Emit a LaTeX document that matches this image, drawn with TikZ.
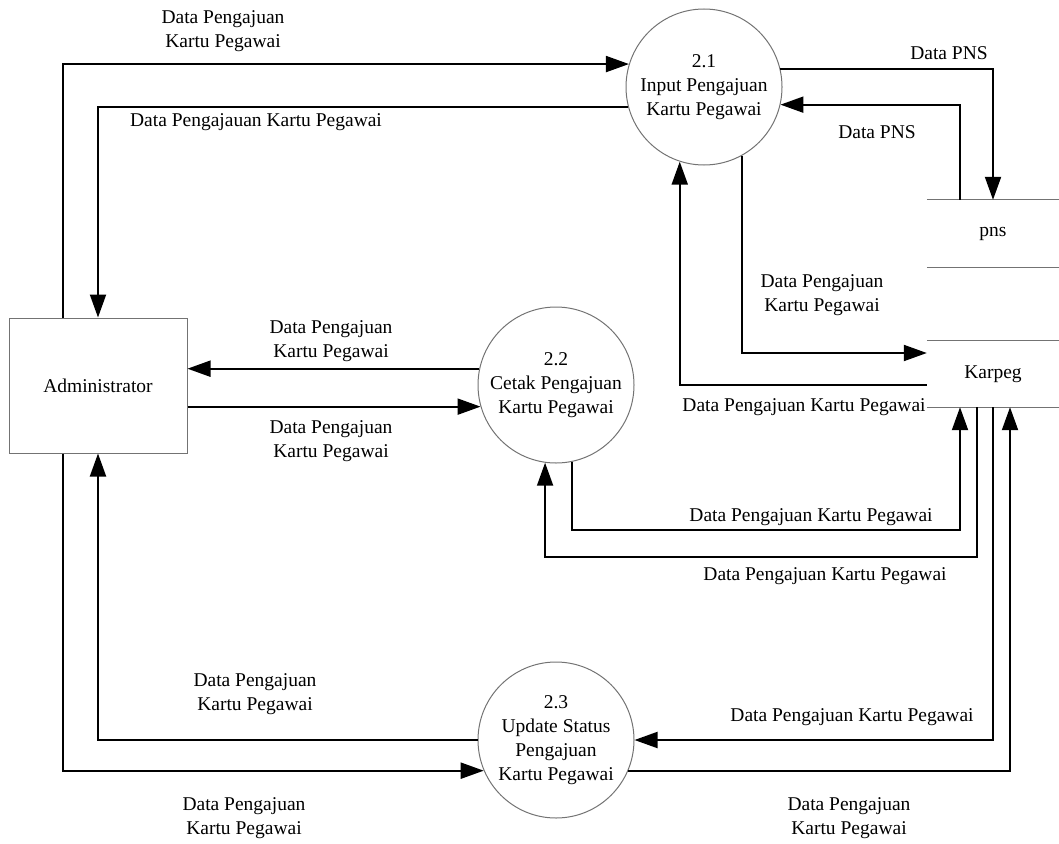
\documentclass[tikz,border=0pt]{standalone}
\usepackage{fontspec}
\setmainfont{Liberation Serif}
\usetikzlibrary{arrows.meta}
\begin{document}
\begin{tikzpicture}[x=1pt,y=-1pt,font=\fontsize{19.5}{24}\selectfont,
	proc/.style={circle,draw=black!55,line width=1pt,minimum size=156pt,inner sep=0pt,align=center},
	store/.style={minimum width=132pt,inner sep=0pt},
	flow/.style={line width=2pt,-{Triangle[length=23pt,width=16pt]}},
	lbl/.style={align=center,inner sep=1pt}]
	\useasboundingbox (0,0) rectangle (1059,843);

	\node[draw=black!55,line width=1pt,minimum width=178pt,minimum height=135pt] (admin) at (98,385.5) {Administrator};
	\node[proc] (p21) at (704,87)  {2.1\\Input Pengajuan\\Kartu Pegawai};
	\node[proc] (p22) at (556,385) {2.2\\Cetak Pengajuan\\Kartu Pegawai};
	\node[proc] (p23) at (556,740) {2.3\\Update Status\\Pengajuan\\Kartu Pegawai};
	\node[store,minimum height=67pt] (pns) at (993,233.5) {pns};
	\node[store,minimum height=66pt] (karpeg) at (993,374) {Karpeg};

	\draw[black!55,line width=1pt] (pns.north west) -- (pns.north east) (pns.south west) -- (pns.south east);
	\draw[black!55,line width=1pt] (karpeg.north west) -- (karpeg.north east) (karpeg.south west) -- (karpeg.south east);

	\coordinate (kpA) at ([xshift=-33pt]karpeg.south);
	\coordinate (kpB) at ([xshift=-16pt]karpeg.south);
	\coordinate (kpD) at ([xshift=17pt]karpeg.south);
	\coordinate (laneA) at (0,530);
	\coordinate (laneB) at (0,557);

	\draw[flow] ([xshift=-35pt]admin.north) |- (p21.163);
	\draw[flow] (p21.195) -| (admin.north);
	\draw[flow] (p21.13) -| (pns.north);
	\draw[flow] ([xshift=-33pt]pns.north) |- (p21.347);
	\draw[flow] (p21.299) |- ([yshift=21pt]karpeg.west);
	\draw[flow] ([yshift=-11pt]karpeg.west) -| (p21.252);
	\draw[flow] (p22.168) -- (p22.168 -| admin.east);
	\draw[flow] (admin.east |- p22.196) -- (p22.196);
	\draw[flow] (p22.282) |- (kpA |- laneA) -- (kpA);
	\draw[flow] (kpB) |- (p22.262 |- laneB) -- (p22.262);
	\draw[flow] (karpeg.south) |- (p23.0);
	\draw[flow] (p23.337) -| (kpD);
	\draw[flow] (p23.180) -| (admin.south);
	\draw[flow] ([xshift=-35pt]admin.south) |- (p23.203);

	\node[lbl] (f1) at (223,31) {Data Pengajuan\\Kartu Pegawai};
	\node[lbl] (f2) at (256,122) {Data Pengajauan Kartu Pegawai};
	\node[lbl] (f3) at (949,53) {Data PNS};
	\node[lbl] (f4) at (877,132) {Data PNS};
	\node[lbl] (f5) at (822,295) {Data Pengajuan\\Kartu Pegawai};
	\node[lbl,anchor=east] (f6) at (karpeg.south west) {Data Pengajuan Kartu Pegawai};
	\node[lbl] (f7) at (331,341) {Data Pengajuan\\Kartu Pegawai};
	\node[lbl] (f8) at (331,441) {Data Pengajuan\\Kartu Pegawai};
	\node[lbl] (f9) at (811,517) {Data Pengajuan Kartu Pegawai};
	\node[lbl] (f10) at (825,576) {Data Pengajuan Kartu Pegawai};
	\node[lbl] (f11) at (852,717) {Data Pengajuan Kartu Pegawai};
	\node[lbl] (f12) at (849,818) {Data Pengajuan\\Kartu Pegawai};
	\node[lbl] (f13) at (255,694) {Data Pengajuan\\Kartu Pegawai};
	\node[lbl] (f14) at (244,818) {Data Pengajuan\\Kartu Pegawai};
\end{tikzpicture}
\end{document}
